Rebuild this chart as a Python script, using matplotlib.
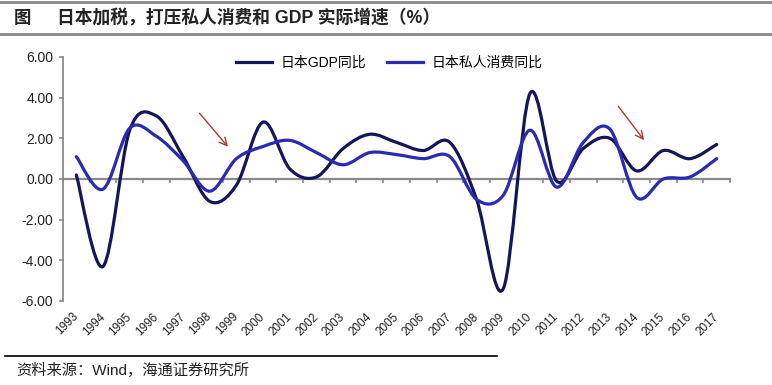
"""
日本加税，打压私人消费和 GDP 实际增速（%）
"""
import numpy as np
import matplotlib
matplotlib.use('Agg')
import matplotlib.pyplot as plt
from matplotlib.path import Path
from matplotlib.patches import PathPatch
from matplotlib.lines import Line2D

plt.rcParams['font.family'] = ['Liberation Sans', 'Noto Sans CJK SC', 'DejaVu Sans']
plt.rcParams['axes.unicode_minus'] = False

# 数据
years = [str(y) for y in range(1993, 2018)]
gdp = [0.2, -4.3, 2.4, 3.1, 1.1, -1.1, -0.3, 2.8, 0.5, 0.1, 1.5, 2.2, 1.8,
       1.4, 1.8, -1.0, -5.4, 4.2, -0.1, 1.5, 2.0, 0.4, 1.4, 1.0, 1.7]
consumption = [1.1, -0.5, 2.5, 2.1, 0.9, -0.6, 1.0, 1.6, 1.9, 1.3, 0.7, 1.3, 1.2,
               1.0, 1.1, -1.0, -0.8, 2.4, -0.4, 1.8, 2.45, -0.9, 0.0, 0.1, 1.0]
series_names = ['日本GDP同比', '日本私人消费同比']
y_ticks = [-6, -4, -2, 0, 2, 4, 6]

GDP_COLOR = '#15155a'
CONS_COLOR = '#2a2ab4'
ARROW_COLOR = '#a83a3a'
GRAY = '#8a8a8a'


def smooth_path(xs, ys):
    """类似 Excel 平滑线的贝塞尔曲线"""
    pts = np.column_stack([xs, ys]).astype(float)
    n = len(pts)
    verts = [pts[0]]
    codes = [Path.MOVETO]
    for i in range(n - 1):
        p0 = pts[i - 1] if i > 0 else pts[i]
        p1 = pts[i]
        p2 = pts[i + 1]
        p3 = pts[i + 2] if i + 2 < n else pts[i + 1]
        c1 = p1 + (p2 - p0) / 6.0
        c2 = p2 - (p3 - p1) / 6.0
        verts += [c1, c2, p2]
        codes += [Path.CURVE4] * 3
    return Path(verts, codes)


fig = plt.figure(figsize=(7.72, 3.85), dpi=100)
ax = fig.add_axes([63 / 772, 84 / 385, 667 / 772, 244 / 385])

x = np.arange(len(years))
for vals, color in [(gdp, GDP_COLOR), (consumption, CONS_COLOR)]:
    patch = PathPatch(smooth_path(x, vals), facecolor='none', edgecolor=color,
                      lw=2.3, capstyle='round', joinstyle='round')
    ax.add_patch(patch)

ax.set_xlim(-0.5, len(years) - 0.5)
ax.set_ylim(-6, 6)
ax.set_yticks(y_ticks)
ax.set_yticklabels([f'{v:.2f}' for v in y_ticks], fontsize=10, color='#222222')
ax.tick_params(axis='y', length=3, width=1.2, color=GRAY, pad=4)

ax.set_xticks(x)
ax.set_xticklabels(years, rotation=45, ha='right', va='center',
                   rotation_mode='anchor', fontsize=8.5, color='#222222')
ax.tick_params(axis='x', length=0, pad=10)

for s in ['top', 'right', 'bottom']:
    ax.spines[s].set_visible(False)
ax.spines['left'].set_color(GRAY)
ax.spines['left'].set_linewidth(1.3)

# 零轴及刻度
ax2 = ax.secondary_xaxis(0.5)
ax2.set_alignment('bottom')
ax2.set_xticks(np.arange(-0.5, len(years), 1.0))
ax2.set_xticklabels([])
ax2.tick_params(axis='x', length=3, width=1.2, color=GRAY, direction='out')
for s in ax2.spines.values():
    s.set_color(GRAY)
    s.set_linewidth(1.6)

# 图例
handles = [Line2D([], [], color=GDP_COLOR, lw=2.3),
           Line2D([], [], color=CONS_COLOR, lw=2.3)]
ax.legend(handles, series_names, loc='center', bbox_to_anchor=(0.489, 0.977),
          ncol=2, frameon=False, fontsize=10, handlelength=2.6,
          handletextpad=0.6, columnspacing=1.5)

# 箭头
ax.annotate('', xy=(5.75, 1.48), xytext=(4.55, 3.34),
            arrowprops=dict(arrowstyle='->', color=ARROW_COLOR, lw=1.0,
                            mutation_scale=14))
ax.annotate('', xy=(21.34, 1.8), xytext=(20.25, 3.69),
            arrowprops=dict(arrowstyle='->', color=ARROW_COLOR, lw=1.0,
                            mutation_scale=14))

# 标题与来源
fig.add_artist(Line2D([0, 1], [1 - 2 / 385, 1 - 2 / 385], color=GRAY, lw=2))
fig.add_artist(Line2D([0, 1], [1 - 34 / 385, 1 - 34 / 385], color=GRAY, lw=2))
fig.text(14 / 772, 1 - 18 / 385, '图', fontsize=12.5, fontweight='bold',
         va='center', ha='left', color='#222222')
fig.text(57 / 772, 1 - 18 / 385, '日本加税，打压私人消费和 GDP 实际增速（%）',
         fontsize=12.8, fontweight='bold', va='center', ha='left', color='#222222')

fig.add_artist(Line2D([5 / 772, 497 / 772], [1 - 356 / 385, 1 - 356 / 385],
                      color='black', lw=1.2))
fig.text(16 / 772, 1 - 370 / 385, '资料来源：Wind，海通证券研究所',
         fontsize=11, va='center', ha='left', color='#222222')

fig.savefig('out.png', dpi=100)
